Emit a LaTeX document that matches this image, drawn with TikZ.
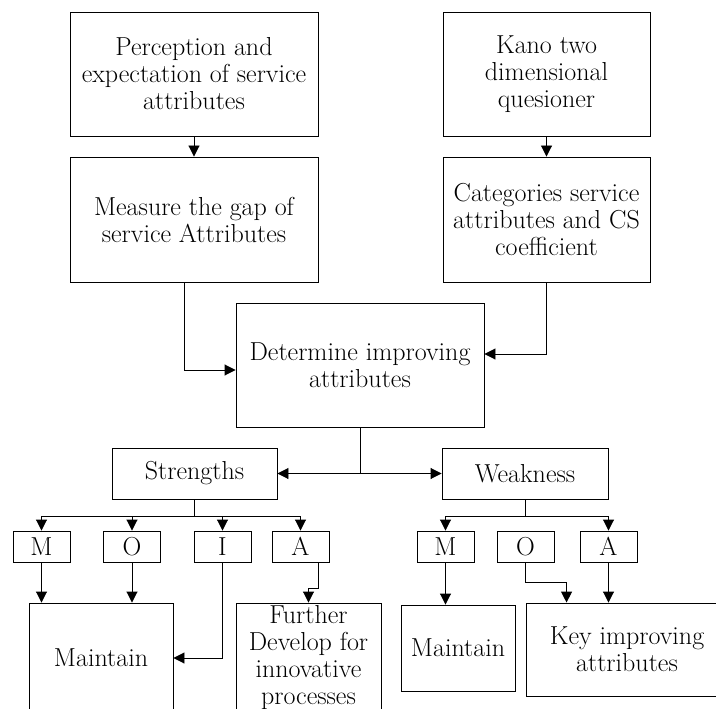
\documentclass[tikz,border=0pt]{standalone}
\usetikzlibrary{arrows.meta}
\begin{document}
\begin{tikzpicture}[x=1pt,y=-1pt,
  box/.style={draw, line width=0.9pt, align=center, inner sep=0pt,
              font=\fontsize{26}{27}\selectfont},
  arr/.style={-{Triangle[length=11pt,width=11pt]}, line width=0.9pt},
  ln/.style={line width=0.9pt}]
\useasboundingbox (0,0) rectangle (716,709);
% top boxes
\node[box, minimum width=248pt, minimum height=124pt] (p1) at (194,74)
  {Perception and\\expectation of service\\attributes};
\node[box, minimum width=207pt, minimum height=124pt] (k1) at (546.5,74)
  {Kano two\\dimensional\\quesioner};
\node[box, minimum width=248pt, minimum height=125pt] (m1) at (194,219.5)
  {Measure the gap of\\service Attributes};
\node[box, minimum width=207pt, minimum height=125pt] (c1) at (546.5,219.5)
  {Categories service\\attributes and CS\\coefficient};
\node[box, minimum width=248pt, minimum height=124pt] (det) at (360,365)
  {Determine improving\\attributes};
\node[box, minimum width=165pt, minimum height=51pt] (str) at (194.5,473.5) {Strengths};
\node[box, minimum width=166pt, minimum height=51pt] (weak) at (525,473.5) {Weakness};
% small boxes
\foreach \n/\x/\t in {sm/41.5/M, so/132/O, si/222.5/I, sa/300.5/A, wm/445.5/M, wo/525.5/O, wa/608.5/A}
  \node[box, minimum width=57pt, minimum height=31pt] (\n) at (\x,546.5) {\t};
% bottom boxes
\node[box, minimum width=144pt, minimum height=110pt] (smain) at (101,658) {Maintain};
\node[box, minimum width=145pt, minimum height=110pt] (fur) at (308.5,658)
  {Further\\Develop for\\innovative\\processes};
\node[box, minimum width=114pt, minimum height=86pt] (wmain) at (458,648) {Maintain};
\node[box, minimum width=202pt, minimum height=93pt] (key) at (627,649.5)
  {Key improving\\attributes};
% connectors top
\draw[arr] (p1) -- (m1);
\draw[arr] (k1) -- (c1);
\draw[arr] ([xshift=-10pt]m1.south) |- ([yshift=-5pt]det.west);
\draw[arr] (c1.south) |- ([yshift=11pt]det.east);
\draw[arr] (det.south) |- (str.east);
\draw[arr] (det.south) |- (weak.west);
% buses
\coordinate (bus) at (0,516);
\foreach \n in {sm,so,si,sa}
  \draw[arr] (str.south) |- (bus -| \n.north) -- (\n.north);
\foreach \n in {wm,wa}
  \draw[arr] (weak.south) |- (bus -| \n.north) -- (\n.north);
% to bottom boxes
\draw[arr] (sm.south) -- (sm.south |- smain.north);
\draw[arr] (so.south) -- (so.south |- smain.north);
\draw[arr] (si.south) |- (smain.east);
\draw[arr] ([xshift=17.5pt]sa.south) -- ++(0,26) -| (fur.north);
\draw[arr] (wm.south) -- (wm.south |- wmain.north);
\draw[arr] (wo.south) -- ++(0,20) -| ([xshift=41pt]key.north west);
\draw[arr] (wa.south) -- (wa.south |- key.north);
\end{tikzpicture}
\end{document}
